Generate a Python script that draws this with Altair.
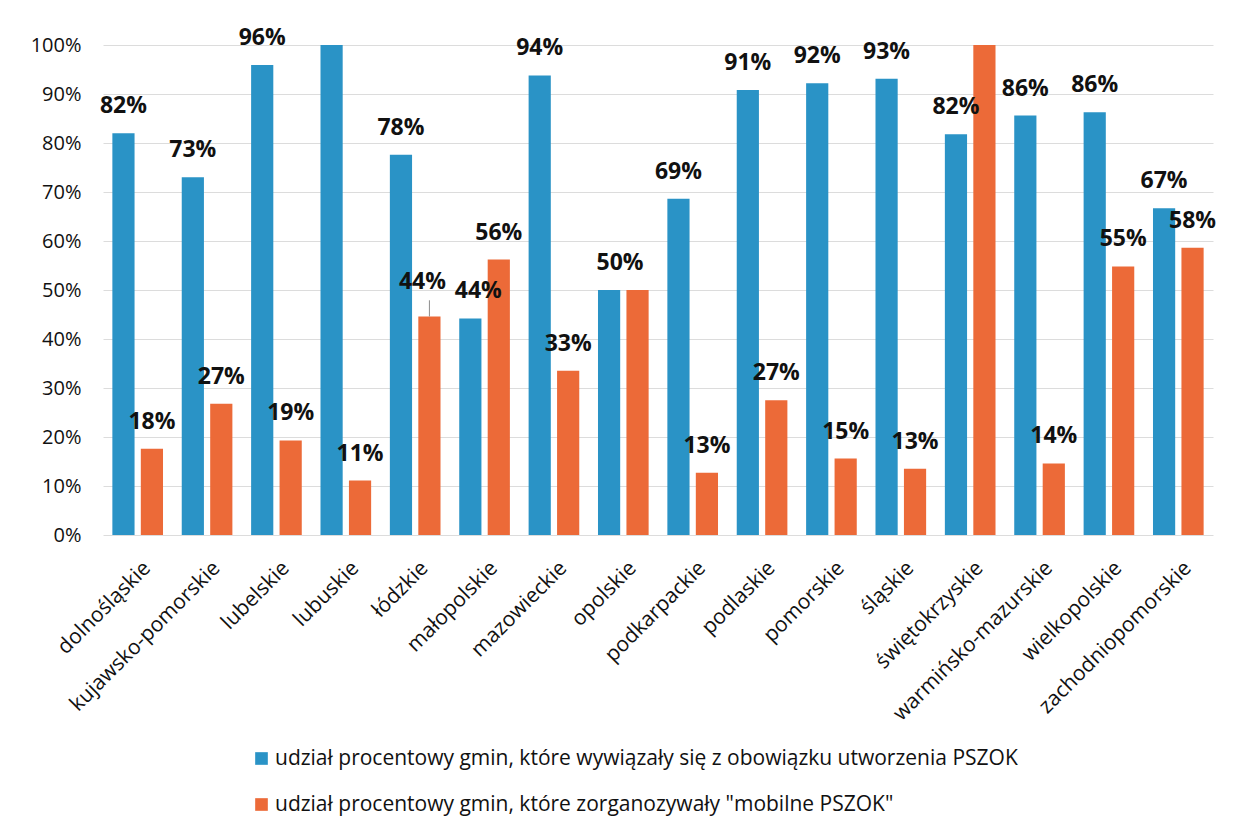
import altair as alt
import pandas as pd

regions = [
    "dolnośląskie", "kujawsko-pomorskie", "lubelskie", "lubuskie", "łódzkie",
    "małopolskie", "mazowieckie", "opolskie", "podkarpackie", "podlaskie",
    "pomorskie", "śląskie", "świętokrzyskie", "warmińsko-mazurskie",
    "wielkopolskie", "zachodniopomorskie",
]
series_names = [
    "udział procentowy gmin, które wywiązały się z obowiązku utworzenia PSZOK",
    "udział procentowy gmin, które zorganozywały \"mobilne PSZOK\"",
]
pszok_share = [82.0, 73.0, 95.9, 100.0, 77.6, 44.2, 93.8, 50.0, 68.6, 90.8, 92.2, 93.1, 81.8, 85.6, 86.3, 66.7]
mobile_share = [17.6, 26.8, 19.3, 11.1, 44.6, 56.2, 33.5, 50.0, 12.7, 27.5, 15.6, 13.5, 100.0, 14.6, 54.8, 58.6]
pszok_labels = ["82%", "73%", "96%", "", "78%", "44%", "94%", "50%", "69%", "91%", "92%", "93%", "82%", "86%", "86%", "67%"]
mobile_labels = ["18%", "27%", "19%", "11%", "44%", "56%", "33%", "", "13%", "27%", "15%", "13%", "", "14%", "55%", "58%"]
y_ticks = [0, 0.1, 0.2, 0.3, 0.4, 0.5, 0.6, 0.7, 0.8, 0.9, 1.0]
colors = ["#2A93C6", "#EC6A38"]

rows = []
for i, r in enumerate(regions):
    rows.append(dict(region=r, series=series_names[0], value=pszok_share[i] / 100, label=pszok_labels[i]))
    rows.append(dict(region=r, series=series_names[1], value=mobile_share[i] / 100, label=mobile_labels[i]))
df = pd.DataFrame(rows)

FONT = "Open Sans"
TXT = "#111111"

x_enc = alt.X(
    "region:N", sort=regions,
    scale=alt.Scale(paddingInner=0.27, paddingOuter=0.135),
    axis=alt.Axis(title=None, labelAngle=-45, labelAlign="right", labelBaseline="top",
                  labelFontSize=21, labelPadding=22, labelOffset=2, ticks=False,
                  domain=False, grid=False, labelColor=TXT, labelFont=FONT, labelLimit=0),
)
xoff_enc = alt.XOffset("series:N", sort=series_names, scale=alt.Scale(paddingInner=0.22))
y_enc = alt.Y(
    "value:Q", scale=alt.Scale(domain=[0, 1], nice=False),
    axis=alt.Axis(title=None, format=".0%", values=y_ticks, ticks=False, domain=False,
                  labelFontSize=20, labelPadding=22, labelColor=TXT, labelFont=FONT,
                  gridColor="#dcdcdc", gridWidth=1),
)
color_enc = alt.Color(
    "series:N", sort=series_names,
    scale=alt.Scale(domain=series_names, range=colors),
    legend=alt.Legend(title=None, orient="none", legendX=148, legendY=703, direction="vertical",
                      symbolType="square", symbolSize=160, symbolStrokeWidth=0,
                      labelFontSize=21, labelFont=FONT, labelColor=TXT, labelLimit=0,
                      rowPadding=24, labelOffset=3),
)

base = alt.Chart(df)
bars = base.mark_bar().encode(x=x_enc, xOffset=xoff_enc, y=y_enc, color=color_enc)

is_lodz = f"datum.region == 'łódzkie' && datum.series == '{series_names[1]}'"
is_malo = f"datum.region == 'małopolskie' && datum.series == '{series_names[0]}'"
is_opol = f"datum.region == 'opolskie' && datum.series == '{series_names[0]}'"


def labels(filter_expr, dx=0, dy=-27):
    return base.transform_filter(filter_expr).mark_text(
        font=FONT, fontWeight="bold", fontSize=23, baseline="middle",
        dx=dx, dy=dy, color=TXT).encode(x=x_enc, xOffset=xoff_enc, y=y_enc, text="label:N")


text_main = labels(f"!({is_lodz}) && !({is_malo}) && !({is_opol})")
text_lodz = labels(is_lodz, dx=-7, dy=-34)
text_malo = labels(is_malo, dx=8, dy=-27)
text_opol = labels(is_opol, dx=11, dy=-27)

leader = base.transform_filter(is_lodz).transform_calculate(
    top="datum.value + 0.033"
).mark_rule(color="#8c8c8c", strokeWidth=1).encode(
    x=x_enc, xOffset=xoff_enc, y=alt.Y("value:Q"), y2="top:Q")

chart = alt.layer(bars, leader, text_main, text_lodz, text_malo, text_opol).properties(
    width=1110, height=490,
    padding={"left": 95, "top": 37, "right": 10, "bottom": 285},
    autosize=alt.AutoSizeParams(type="none"),
    background="white",
).configure_view(stroke=None)

chart.save("out.html", embed_options={"renderer": "svg", "actions": False})
